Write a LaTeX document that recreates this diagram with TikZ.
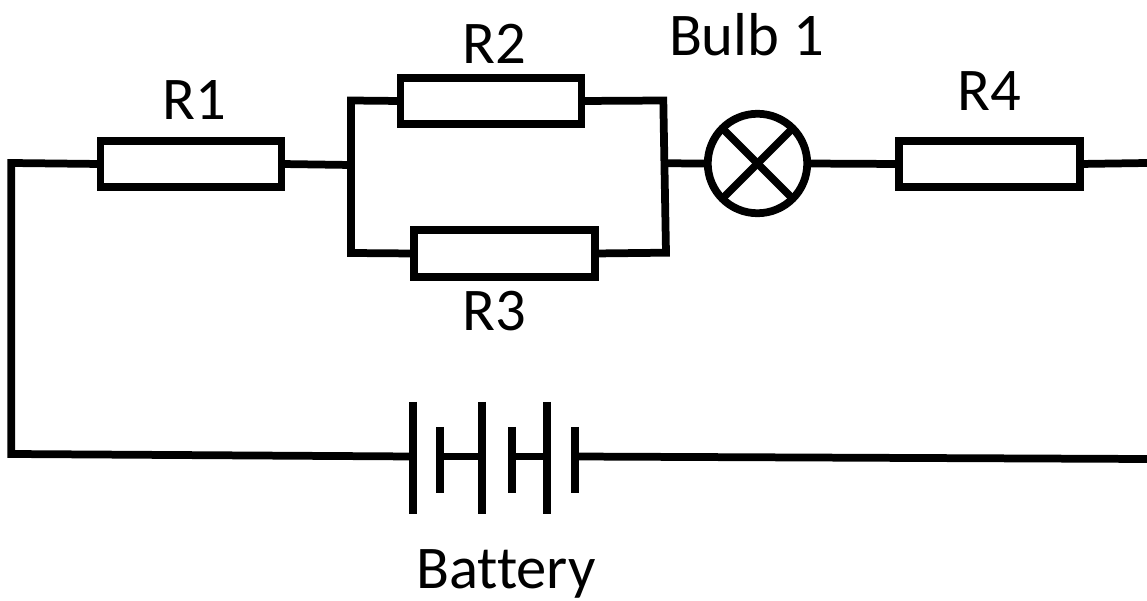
\documentclass[tikz,border=0pt]{standalone}
\usepackage{fontspec}
\setmainfont[RawFeature={-liga}]{Carlito}
\begin{document}
\begin{tikzpicture}[x=0.02cm,y=-0.02cm,line width=0.155cm,
resblock/.style={draw,rectangle,inner sep=0pt,outer sep=0pt,minimum width=3.62cm,minimum height=0.93cm},
bulb/.style={draw,circle,inner sep=0pt,outer sep=0pt,minimum size=1.99cm},
label/.style={inner sep=0pt,font=\fontsize{34.5pt}{34.5pt}\selectfont}]

\useasboundingbox (0,0) rectangle (1147,601);

\node[resblock] (R1) at (191,164) {};
\node[resblock] (R2) at (491,101) {};
\node[resblock] (R3) at (504.5,253.5) {};
\node[resblock] (R4) at (989.5,164) {};
\node[bulb] (B1) at (757.5,163.5) {};
\draw (B1.45) -- (B1.225);
\draw (B1.135) -- (B1.315);

\coordinate (LT) at (11.3,163);
\coordinate (LB) at (11.3,454);
\coordinate (RT) at (1147,163);
\coordinate (RB) at (1147,459);
\coordinate (PL) at (351,165);
\coordinate (PLT) at (351,100.5);
\coordinate (PLB) at (351,253);
\coordinate (PR) at (664.5,163.3);
\coordinate (PRT) at (663.3,100.5);
\coordinate (PRB) at (666,252.7);

% battery plates
\foreach \name/\xx/\ya/\yb in {P1/413/402/514,P3/482/402/514,P5/547/402/514,P2/440/427/493,P4/512.3/427/493,P6/575/427/493}{
  \coordinate (\name a) at (\xx,\ya);
  \coordinate (\name b) at (\xx,\yb);
  \coordinate (\name) at (\xx,456.5);
}
\foreach \name in {P1,P2,P3,P4,P5,P6}
  \draw (\name a) -- (\name b);
\draw (P2) -- (P3);
\draw (P4) -- (P5);

\draw (R1.west) -- (LT) -- (LB) -- (P1);
\draw (P6) -- (RB);
\draw (R1.east) -- (PL);
\draw (R2.west) -- (PLT) -- (PLB) -- (R3.west);
\draw (R2.east) -- (PRT) -- (PRB) -- (R3.east);
\draw (PR) -- (B1.west);
\draw (B1.east) -- (R4.west);
\draw (R4.east) -- (RT);

\node[label] (L1) at (194,100) {R1};
\node[label] (L2) at (494,44) {R2};
\node[label] (L3) at (494,311.5) {R3};
\node[label] (L4) at (989,91) {R4};
\node[label] (L5) at (746.5,35) {Bulb 1};
\node[label] (L6) at (506,573.5) {Battery};

\end{tikzpicture}
\end{document}
